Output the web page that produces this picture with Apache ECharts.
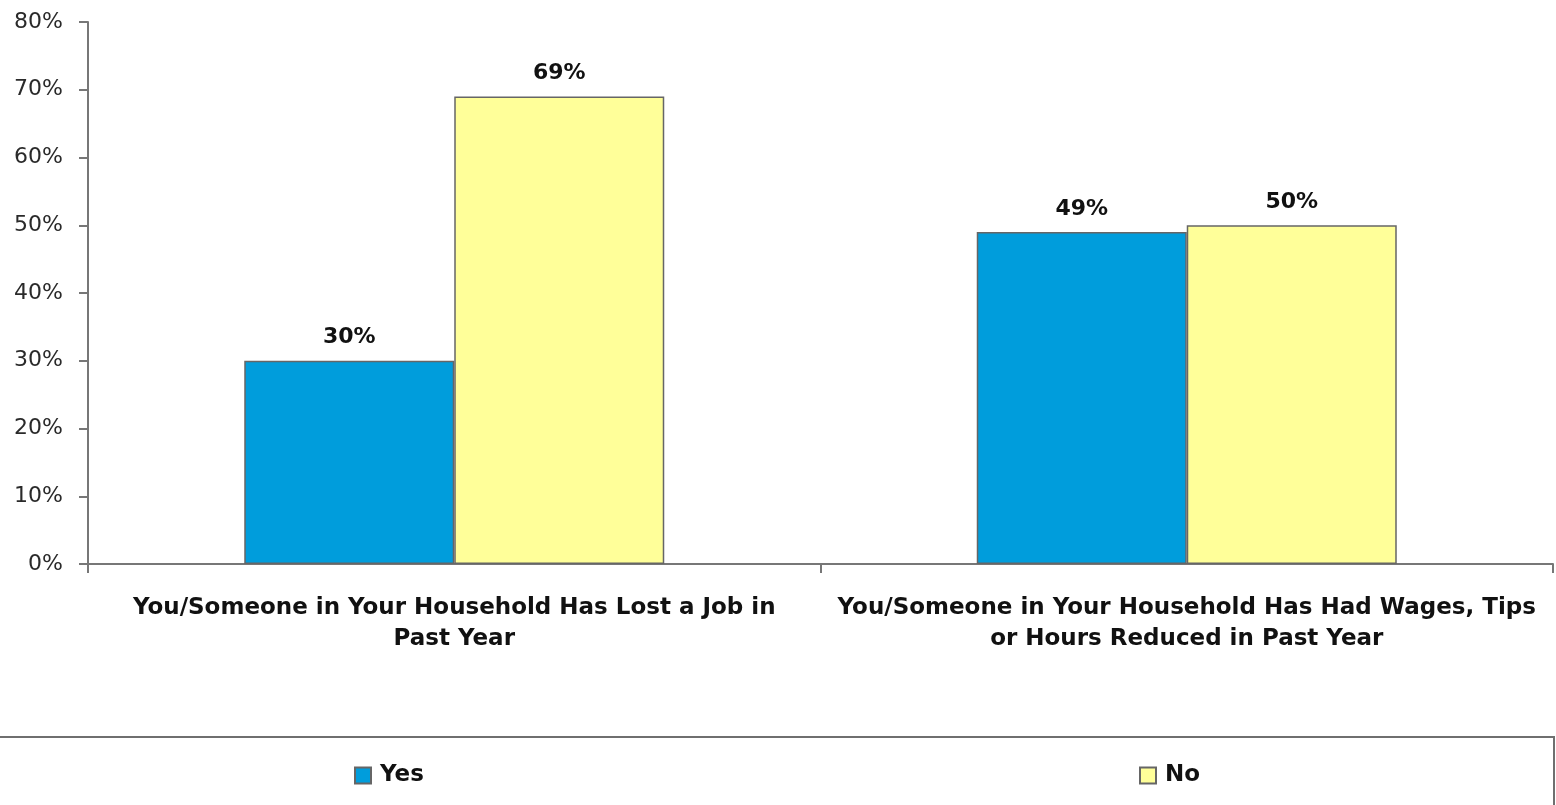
<!DOCTYPE html>
<html><head><meta charset="utf-8">
<script src="https://cdn.jsdelivr.net/npm/echarts@6/dist/echarts.min.js"></script>
<style>html,body{margin:0;padding:0;background:#fff}#c{width:1556px;height:805px}</style>
</head><body><div id="c"></div>
<script>
const categories = [
  "You/Someone in Your Household Has Lost a Job in\nPast Year",
  "You/Someone in Your Household Has Had Wages, Tips\nor Hours Reduced in Past Year"
];
const yesValues = [30, 49];
const noValues = [69, 50];
const seriesNames = ["Yes", "No"];

const FONT = "DejaVu Sans";
const chart = echarts.init(document.getElementById('c'));
const labelStyle = {show: true, position: 'top', distance: 12, formatter: '{c}%', color: '#111', fontSize: 22, fontWeight: 'bold', fontFamily: FONT};
chart.setOption({
  animation: false,
  backgroundColor: '#fff',
  grid: {left: 88, right: 3, top: 22, bottom: 241, containLabel: false},
  xAxis: {
    type: 'category', data: categories,
    axisLine: {lineStyle: {color: '#777', width: 2}},
    axisTick: {show: true, length: 9, lineStyle: {color: '#777', width: 2}},
    axisLabel: {color: '#111', fontSize: 23, fontFamily: FONT, fontWeight: 'bold', lineHeight: 31, margin: 29, interval: 0}
  },
  yAxis: {
    type: 'value', min: 0, max: 80, interval: 10,
    axisLine: {show: true, lineStyle: {color: '#777', width: 2}},
    axisTick: {show: true, length: 9, lineStyle: {color: '#777', width: 2}},
    splitLine: {show: false},
    axisLabel: {formatter: '{value}%', color: '#2a2a2a', fontSize: 22, fontFamily: FONT, margin: 25}
  },
  legend: [
    {data: [{name: seriesNames[0], icon: 'rect'}], left: 349, top: 759, itemWidth: 16, itemHeight: 16, itemGap: 0,
     textStyle: {fontSize: 23, color: '#111', fontFamily: FONT, fontWeight: 'bold', padding: [0, 0, 0, 4]}},
    {data: [{name: seriesNames[1], icon: 'rect'}], left: 1134, top: 759, itemWidth: 16, itemHeight: 16, itemGap: 0,
     textStyle: {fontSize: 23, color: '#111', fontFamily: FONT, fontWeight: 'bold', padding: [0, 0, 0, 4]}}
  ],
  graphic: [{type: 'rect', shape: {x: -5, y: 737, width: 1559, height: 100}, style: {fill: 'none', stroke: '#6f6f6f', lineWidth: 2}, silent: true}],
  series: [
    {name: seriesNames[0], type: 'bar', data: yesValues, barWidth: 210, barGap: '0%',
     itemStyle: {color: '#009DDC', borderColor: '#666', borderWidth: 1.5}, label: labelStyle},
    {name: seriesNames[1], type: 'bar', data: noValues, barWidth: 210, barGap: '0%',
     itemStyle: {color: '#FFFF99', borderColor: '#666', borderWidth: 1.5}, label: labelStyle}
  ]
});
</script></body></html>
